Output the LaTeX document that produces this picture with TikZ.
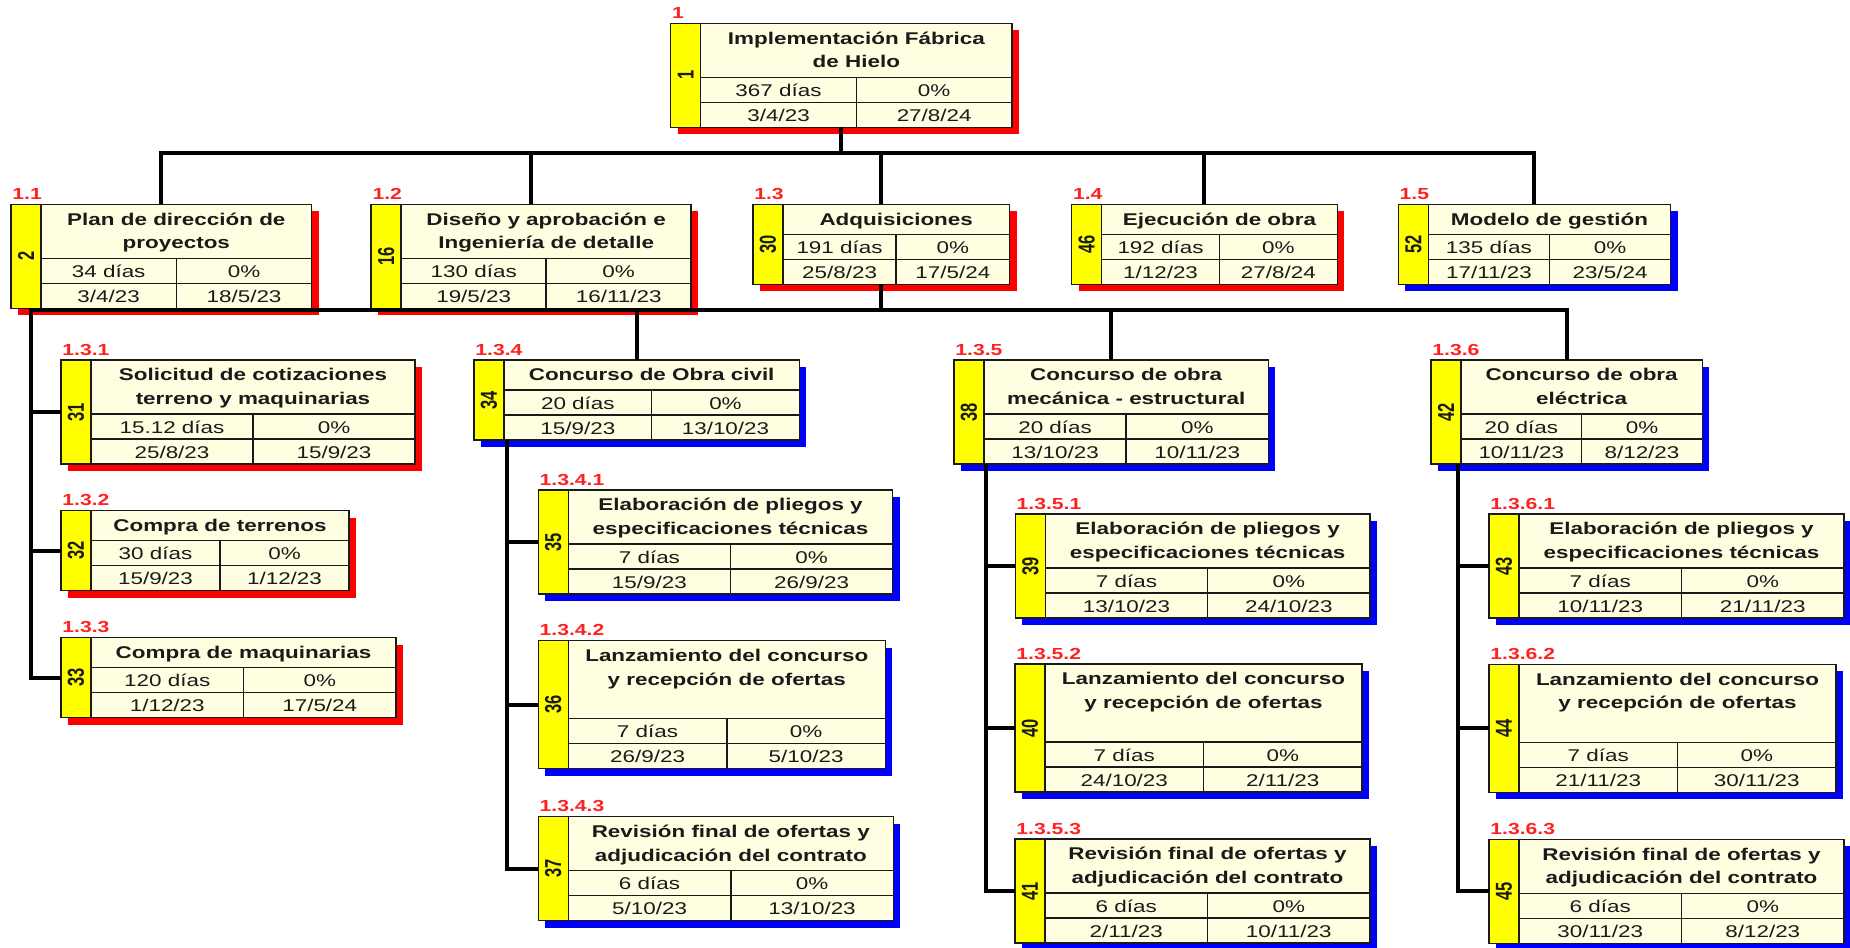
\documentclass[tikz,border=0pt]{standalone}
\usepackage{fontspec}
\usepackage{graphicx}
\setmainfont{Liberation Sans}[FakeStretch=1.32]
\newfontfamily\idfont{Liberation Sans}
\usetikzlibrary{calc}

\definecolor{cream}{HTML}{FFFEE0}
\definecolor{idyellow}{HTML}{FFFF00}
\definecolor{critred}{HTML}{FF0000}
\definecolor{normblue}{HTML}{0000FF}
\definecolor{lblred}{HTML}{FF2020}
\definecolor{ink}{HTML}{1A1A1A}

\tikzset{
  conn/.style={draw=black, line width=2pt, line join=miter},
  frame/.style={draw=ink, line width=0.75pt, inner sep=0pt, outer sep=0pt, anchor=north west},
  cellline/.style={draw=ink, line width=0.75pt},
  ttl/.style={font=\fontsize{8.5}{11.75}\selectfont\bfseries, align=center, inner sep=0pt, anchor=north, text=ink},
  dat/.style={font=\fontsize{8.5}{10}\selectfont, inner sep=0pt, anchor=base, text=ink},
  lbl/.style={font=\fontsize{8}{9}\selectfont\bfseries, text=lblred, inner sep=0pt, anchor=base west},
  idn/.style={font=\idfont\fontsize{8.25}{9}\selectfont\bfseries, inner sep=0pt, rotate=90, text=ink},
}

% WBS box: name, left, top, width, title height, shadow colour, id, code, title
\newcommand\wbs[9]{%
  \pgfmathsetmacro\wL{#2}%
  \pgfmathsetmacro\wT{#3}%
  \pgfmathsetmacro\wR{#2+#4}%
  \pgfmathsetmacro\wA{#3+#5}%
  \pgfmathsetmacro\wM{#3+#5+25}%
  \pgfmathsetmacro\wB{#3+#5+50}%
  \pgfmathsetmacro\wY{#2+30}%
  \pgfmathsetmacro\wD{(#2+30+#2+#4)/2}%
  \fill[#6] ({\wL+7},{\wT+7}) rectangle ({\wR+7},{\wB+7});
  \fill[cream] (\wL,\wT) rectangle (\wR,\wB);
  \fill[idyellow] (\wL,\wT) rectangle (\wY,\wB);
  \draw[cellline] (\wY,\wT) -- (\wY,\wB) (\wY,\wA) -- (\wR,\wA)
        (\wY,\wM) -- (\wR,\wM) (\wD,\wA) -- (\wD,\wB);
  \node[frame, minimum width={#4*0.5pt}, minimum height={(#5+50)*0.5pt}] (#1) at (\wL,\wT) {};
  \node[idn] at ({\wL+15},{(\wT+\wB)/2}) {\scalebox{1}[1.4]{#7}};
  \node[lbl] at ({\wL+1},{\wT-5}) {#8};
  \node[ttl] at ({(\wY+\wR)/2},{\wT+4}) {\strut #9};
}
% duration, progress, start and finish of the last box
\newcommand\wbsdata[4]{%
  \node[dat] at ({(\wY+\wD)/2},{\wA+19}) {#1};
  \node[dat] at ({(\wD+\wR)/2},{\wA+19}) {#2};
  \node[dat] at ({(\wY+\wD)/2},{\wM+19}) {#3};
  \node[dat] at ({(\wD+\wR)/2},{\wM+19}) {#4};
}

\begin{document}
\begin{tikzpicture}[x=0.5pt, y=-0.5pt]
\useasboundingbox (0,0) rectangle (1850,947);
\clip (0,0) rectangle (1850,947);

% level 0
\wbs{b1}{670.7}{23.3}{341.3}{54}{critred}{1}{1}{Implementación Fábrica\\de Hielo}
\wbsdata{367 días}{0\%}{3/4/23}{27/8/24}

% level 1
\wbs{b11}{11}{204.3}{300.7}{54}{critred}{2}{1.1}{Plan de dirección de\\proyectos}
\wbsdata{34 días}{0\%}{3/4/23}{18/5/23}
\wbs{b12}{371.2}{204.3}{320}{54}{critred}{16}{1.2}{Diseño y aprobación e\\Ingeniería de detalle}
\wbsdata{130 días}{0\%}{19/5/23}{16/11/23}
\wbs{b13}{752.9}{204.3}{256.6}{30}{critred}{30}{1.3}{Adquisiciones}
\wbsdata{191 días}{0\%}{25/8/23}{17/5/24}
\wbs{b14}{1071.6}{204.3}{265.7}{30}{critred}{46}{1.4}{Ejecución de obra}
\wbsdata{192 días}{0\%}{1/12/23}{27/8/24}
\wbs{b15}{1398.3}{204.3}{272.3}{30}{normblue}{52}{1.5}{Modelo de gestión}
\wbsdata{135 días}{0\%}{17/11/23}{23/5/24}

% level 2 under 1.3
\wbs{b131}{61}{360}{354}{54}{critred}{31}{1.3.1}{Solicitud de cotizaciones\\terreno y maquinarias}
\wbsdata{15.12 días}{0\%}{25/8/23}{15/9/23}
\wbs{b132}{61}{510.7}{288}{30}{critred}{32}{1.3.2}{Compra de terrenos}
\wbsdata{30 días}{0\%}{15/9/23}{1/12/23}
\wbs{b133}{61}{637.7}{335}{30}{critred}{33}{1.3.3}{Compra de maquinarias}
\wbsdata{120 días}{0\%}{1/12/23}{17/5/24}

\wbs{b134}{474}{360}{325.3}{30}{normblue}{34}{1.3.4}{Concurso de Obra civil}
\wbsdata{20 días}{0\%}{15/9/23}{13/10/23}
\wbs{b1341}{538.3}{490}{354.4}{54}{normblue}{35}{1.3.4.1}{Elaboración de pliegos y\\especificaciones técnicas}
\wbsdata{7 días}{0\%}{15/9/23}{26/9/23}
\wbs{b1342}{538.3}{640.7}{347}{78}{normblue}{36}{1.3.4.2}{Lanzamiento del concurso\\y recepción de ofertas}
\wbsdata{7 días}{0\%}{26/9/23}{5/10/23}
\wbs{b1343}{538.3}{816.7}{355}{54}{normblue}{37}{1.3.4.3}{Revisión final de ofertas y\\adjudicación del contrato}
\wbsdata{6 días}{0\%}{5/10/23}{13/10/23}

\wbs{b135}{954}{360}{314.3}{54}{normblue}{38}{1.3.5}{Concurso de obra\\mecánica - estructural}
\wbsdata{20 días}{0\%}{13/10/23}{10/11/23}
\wbs{b1351}{1015.3}{514}{354.7}{54}{normblue}{39}{1.3.5.1}{Elaboración de pliegos y\\especificaciones técnicas}
\wbsdata{7 días}{0\%}{13/10/23}{24/10/23}
\wbs{b1352}{1015}{664}{347}{78}{normblue}{40}{1.3.5.2}{Lanzamiento del concurso\\y recepción de ofertas}
\wbsdata{7 días}{0\%}{24/10/23}{2/11/23}
\wbs{b1353}{1015}{839}{355}{54}{normblue}{41}{1.3.5.3}{Revisión final de ofertas y\\adjudicación del contrato}
\wbsdata{6 días}{0\%}{2/11/23}{10/11/23}

\wbs{b136}{1431}{360}{271.3}{54}{normblue}{42}{1.3.6}{Concurso de obra\\eléctrica}
\wbsdata{20 días}{0\%}{10/11/23}{8/12/23}
\wbs{b1361}{1489}{514}{355}{54}{normblue}{43}{1.3.6.1}{Elaboración de pliegos y\\especificaciones técnicas}
\wbsdata{7 días}{0\%}{10/11/23}{21/11/23}
\wbs{b1362}{1489}{664.3}{347}{78}{normblue}{44}{1.3.6.2}{Lanzamiento del concurso\\y recepción de ofertas}
\wbsdata{7 días}{0\%}{21/11/23}{30/11/23}
\wbs{b1363}{1489}{839.3}{355}{54}{normblue}{45}{1.3.6.3}{Revisión final de ofertas y\\adjudicación del contrato}
\wbsdata{6 días}{0\%}{30/11/23}{8/12/23}

% bus junctions
\coordinate (tb) at ($(b1.south)+(0,26)$);
\coordinate (sb) at (31,310);
\coordinate (v134) at ([xshift=16.5pt]b134.south west);
\coordinate (v135) at ([xshift=16pt]b135.south west);
\coordinate (v136) at ([xshift=13.5pt]b136.south west);

% level 0 -> level 1
\draw[conn] (b1.south) -- (tb);
\draw[conn] (b11.north) |- (tb) -| (b15.north);
\draw[conn] (b12.north) -- (b12.north |- tb);
\draw[conn] (b13.north) -- (b13.north |- tb);
\draw[conn] (b14.north) -- (b14.north |- tb);

% 1.3 -> level 2
\draw[conn] (b133.west) -| (sb) -| (b136.north);
\draw[conn] (b13.south) -- (b13.south |- sb);
\draw[conn] (b134.north) -- (b134.north |- sb);
\draw[conn] (b135.north) -- (b135.north |- sb);
\draw[conn] (b131.west) -- (b131.west -| sb);
\draw[conn] (b132.west) -- (b132.west -| sb);

% level 2 -> level 3
\draw[conn] (v134) |- (b1343.west);
\draw[conn] (b1341.west) -- (b1341.west -| v134);
\draw[conn] (b1342.west) -- (b1342.west -| v134);
\draw[conn] (v135) |- (b1353.west);
\draw[conn] (b1351.west) -- (b1351.west -| v135);
\draw[conn] (b1352.west) -- (b1352.west -| v135);
\draw[conn] (v136) |- (b1363.west);
\draw[conn] (b1361.west) -- (b1361.west -| v136);
\draw[conn] (b1362.west) -- (b1362.west -| v136);
\end{tikzpicture}
\end{document}
